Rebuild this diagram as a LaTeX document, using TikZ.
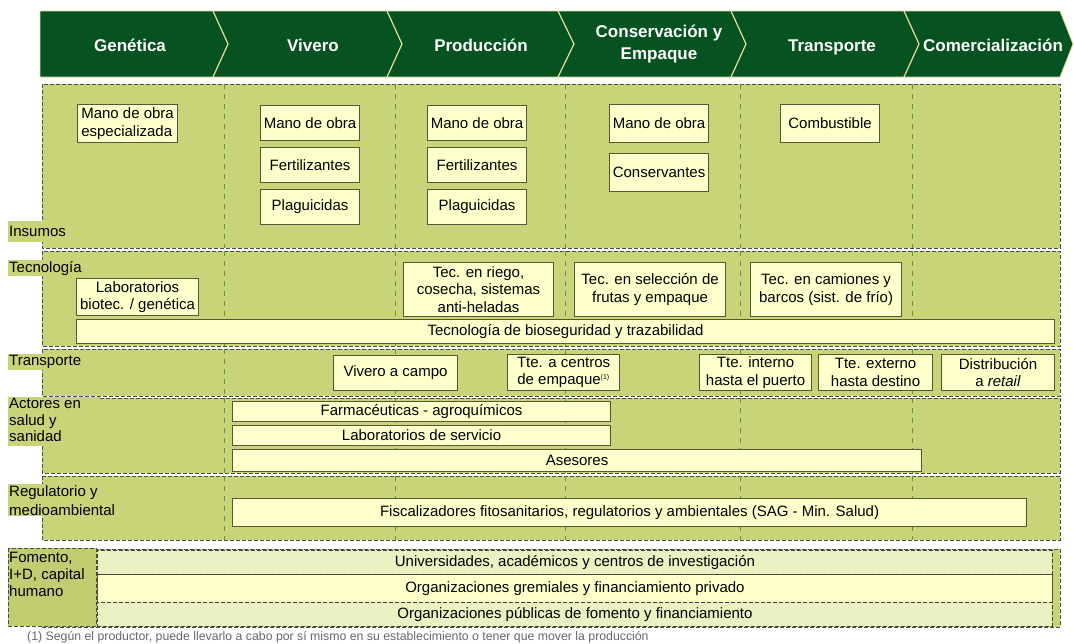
\documentclass[tikz,border=0pt]{standalone}
\usepackage{fontspec}
\setmainfont{Liberation Sans}
\usetikzlibrary{positioning}
\definecolor{verdeosc}{RGB}{6,82,32}
\definecolor{verdeban}{RGB}{201,211,120}
\definecolor{verdelab}{RGB}{194,204,112}
\definecolor{verdefila}{RGB}{236,241,196}
\definecolor{crema}{RGB}{255,255,204}
\definecolor{bordecaja}{RGB}{85,85,55}
\definecolor{linea}{RGB}{232,222,160}
\definecolor{guiaverde}{RGB}{90,150,80}
\tikzset{
  banda/.style={fill=verdeban,draw=black!70,dash pattern=on 4pt off 2pt,line width=.9pt},
  caja/.style={draw=bordecaja,fill=crema,line width=1.1pt,anchor=north west,inner sep=1pt,align=center,font=\fontsize{15}{17.5}\selectfont},
  etiqueta/.style={anchor=north west,fill=verdeban,inner sep=1.5pt,align=left,font=\fontsize{15}{17}\selectfont},
  fase/.style={text=white,font=\bfseries\fontsize{17}{22}\selectfont,align=center},
  guia/.style={draw=guiaverde,dash pattern=on 5pt off 5pt,line width=.6pt},
  fila/.style={anchor=north west,fill=verdefila,draw=black!75,dash pattern=on 4pt off 2pt,line width=.9pt,minimum width=955pt,minimum height=24pt,inner sep=0pt,font=\fontsize{15}{17}\selectfont}
}

\begin{document}
\begin{tikzpicture}[x=1pt,y=-1pt]
\useasboundingbox (0,0) rectangle (1074,643);

% cadena de valor
\draw[fill=verdeosc,draw=linea,line width=.8pt] (40,11) -- (1060,11) -- (1073,44) -- (1060,77) -- (40,77) -- cycle;
\foreach \a/\b in {213/228,387/402,558/574,731/746,904/919}
  \draw[linea,line width=1.2pt] (\a,11) -- (\b,44) -- (\a,77);
\node[fase,anchor=base] (gen) at (130,51) {Genética};
\node[fase,anchor=base] (viv) at (313,51) {Vivero};
\node[fase,anchor=base] (pro) at (481,51) {Producción};
\node[fase] (con) at (659,44) {Conservación y\\Empaque};
\node[fase,anchor=base] (tra) at (832,51) {Transporte};
\node[fase,anchor=base] (com) at (993,51) {Comercialización};

% bandas
\draw[banda] (42,84) rectangle (1060,248);
\draw[banda] (42,251) rectangle (1060,346);
\draw[banda] (42,349) rectangle (1060,396);
\draw[banda] (42,398) rectangle (1060,473);
\draw[banda] (42,476) rectangle (1060,540);
\draw[banda] (42,549) rectangle (1060,627);
\foreach \x in {224,395,565,740,912}
  \foreach \ya/\yb in {84/248,251/346,349/396,398/473,476/540}
    \draw[guia] (\x,\ya) -- (\x,\yb);

% insumos
\node[caja,align=left,minimum width=100pt,minimum height=38pt] (moesp) at (77,104) {Mano de obra\\especializada};
\node[caja,minimum width=99pt,minimum height=35pt] (moviv) at (260,105) {Mano de obra};
\node[caja,minimum width=99pt,minimum height=35pt] (feviv) at (260,147) {Fertilizantes};
\node[caja,minimum width=99pt,minimum height=35pt] (plviv) at (260,189) {Plaguicidas};
\node[caja,minimum width=99pt,minimum height=35pt] (mopro) at (427,105) {Mano de obra};
\node[caja,minimum width=99pt,minimum height=35pt] (fepro) at (427,147) {Fertilizantes};
\node[caja,minimum width=99pt,minimum height=35pt] (plpro) at (427,189) {Plaguicidas};
\node[caja,minimum width=99pt,minimum height=38pt] (mocon) at (609,104) {Mano de obra};
\node[caja,minimum width=99pt,minimum height=38pt] (cocon) at (609,153) {Conservantes};
\node[caja,minimum width=99pt,minimum height=38pt] (cbtra) at (780,104) {Combustible};

% tecnologia
\node[caja,minimum width=122pt,minimum height=37pt] (labgen) at (76,278) {Laboratorios\\biotec. / genética};
\node[caja,minimum width=150pt,minimum height=54pt] (riego) at (403,262) {Tec. en riego,\\cosecha, sistemas\\anti-heladas};
\node[caja,minimum width=151pt,minimum height=54pt] (selec) at (574,262) {Tec. en selección de\\frutas y empaque};
\node[caja,minimum width=151pt,minimum height=54pt] (camion) at (750,262) {Tec. en camiones y\\barcos (sist. de frío)};
\node[caja,minimum width=978pt,minimum height=24pt] (biotraz) at (76,319) {Tecnología de bioseguridad y trazabilidad};

% transporte
\node[caja,minimum width=124pt,minimum height=35pt] (vivcam) at (333,355) {Vivero a campo};
\node[caja,minimum width=112pt,minimum height=36pt] (tcentro) at (507,354) {Tte. a centros\\de empaque\textsuperscript{\scriptsize(1)}};
\node[caja,minimum width=112pt,minimum height=36pt] (tinterno) at (699,354) {Tte. interno\\hasta el puerto};
\node[caja,minimum width=114pt,minimum height=36pt] (texterno) at (818,354) {Tte. externo\\hasta destino};
\node[caja,minimum width=113pt,minimum height=36pt] (retail) at (941,354) {Distribución\\a \textit{retail}};

% actores
\node[caja,minimum width=378pt,minimum height=20pt] (farma) at (232,401) {Farmacéuticas - agroquímicos};
\node[caja,minimum width=378pt,minimum height=20pt] (labserv) at (232,425) {Laboratorios de servicio};
\node[caja,minimum width=689pt,minimum height=22pt] (asesor) at (232,449) {Asesores};

% regulatorio
\node[caja,minimum width=794pt,minimum height=28pt] (fiscal) at (232,498) {Fiscalizadores fitosanitarios, regulatorios y ambientales (SAG - Min. Salud)};

% fomento
\node[fila,fill=crema,draw=bordecaja,solid,minimum height=28pt] (gremio) at (97,574) {Organizaciones gremiales y financiamiento privado};
\node[fila] (univ) at (97,550) {Universidades, académicos y centros de investigación};
\node[fila] (publi) at (97,602) {Organizaciones públicas de fomento y financiamiento};
\draw[fill=verdelab,draw=black!70,dash pattern=on 4pt off 2pt,line width=.9pt] (8,548) rectangle (96,626);

% etiquetas
\fill[verdeban] (8,397) rectangle (100,446);
\node[etiqueta,inner ysep=5pt,inner xsep=1pt] (insumos) at (8,221) {Insumos};
\node[etiqueta,inner sep=1pt] (tecno) at (8,260) {Tecnología};
\node[etiqueta,inner sep=1pt] (transp) at (8,354) {Transporte};
\node[etiqueta,inner sep=1pt,font=\fontsize{15}{16.5}\selectfont] (actores) at (8,397) {Actores en\\salud y\\sanidad};
\node[etiqueta,inner sep=1pt,font=\fontsize{15}{19}\selectfont] (regula) at (8,484) {Regulatorio y\\medioambiental};
\node[etiqueta,fill=none,inner sep=1pt,font=\fontsize{15}{17}\selectfont] (fomento) at (8,551) {Fomento,\\I+D, capital\\humano};

% nota
\node[anchor=west,text=black!60,inner sep=0pt,font=\fontsize{12.3}{14}\selectfont] (nota) at (27,637) {(1) Según el productor, puede llevarlo a cabo por sí mismo en su establecimiento o tener que mover la producción};
\end{tikzpicture}
\end{document}
